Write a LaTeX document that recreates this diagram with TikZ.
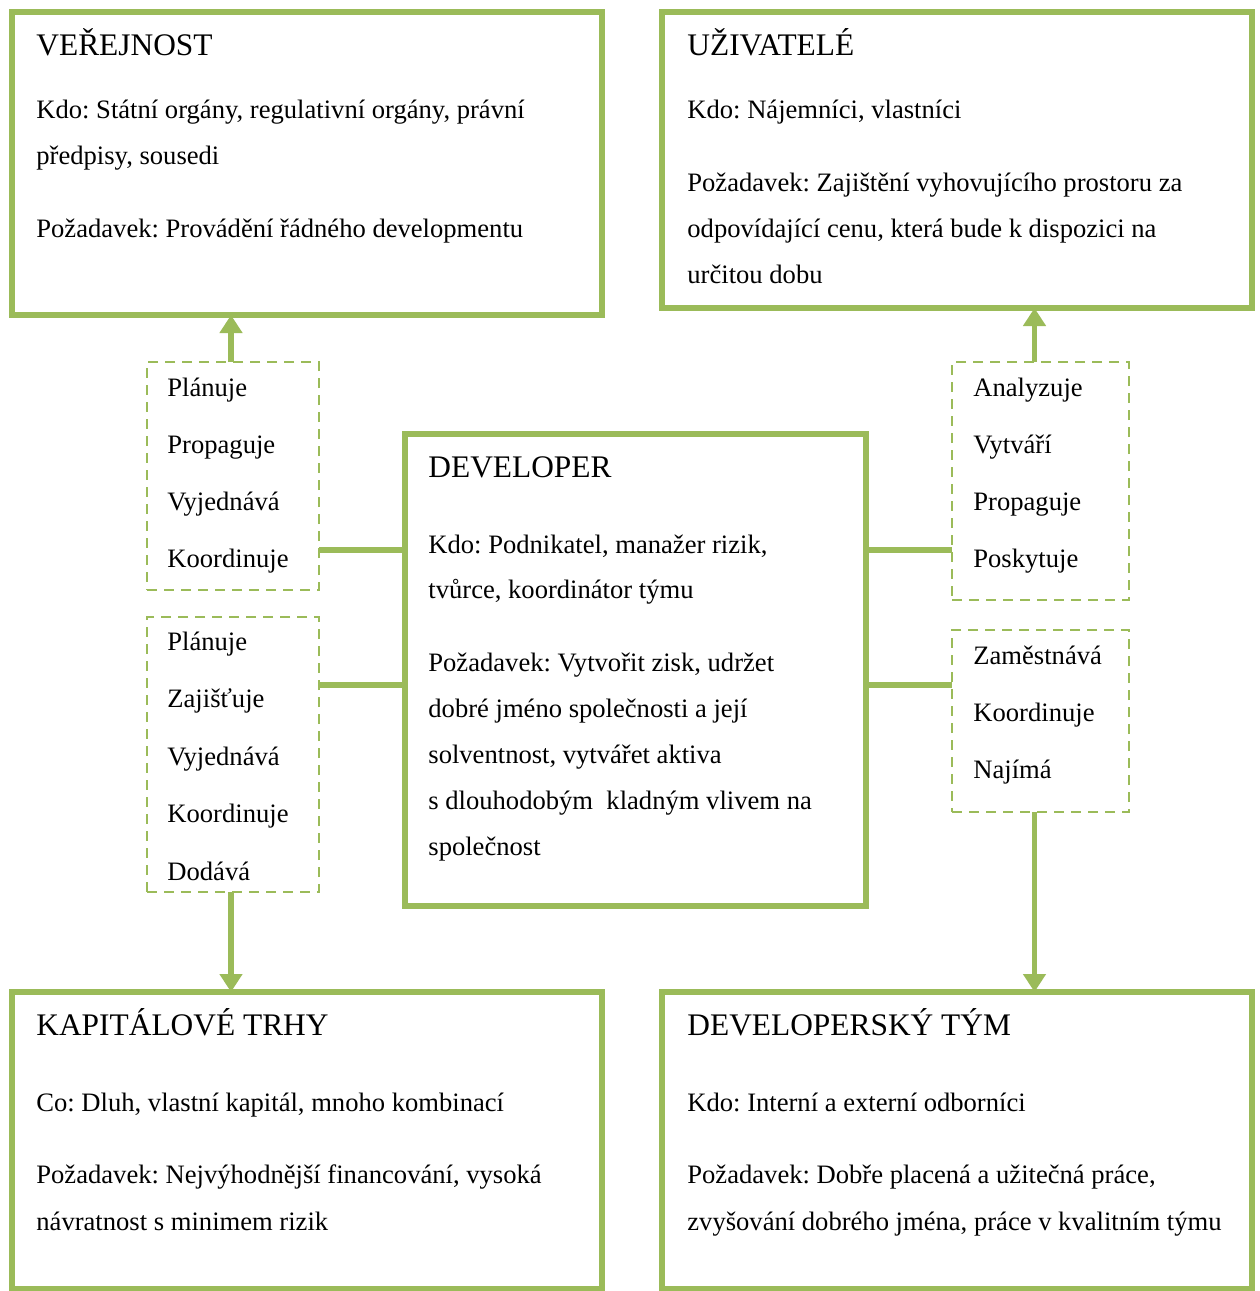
\documentclass[tikz,border=0pt]{standalone}
\usepackage{fontspec}
\setmainfont{Liberation Serif}
\usetikzlibrary{arrows.meta}
\definecolor{olivegreen}{HTML}{9BBB59}
\frenchspacing

\tikzset{
  bigbox/.style={draw=olivegreen, line width=2.6pt, anchor=north west, inner sep=0pt, outer sep=0pt},
  dashbox/.style={draw=olivegreen, line width=1.4pt, dash pattern=on 5pt off 3.5pt, anchor=north west, inner sep=0pt, outer sep=0pt},
  link/.style={olivegreen, line width=2.6pt},
  push/.style={link, -{Triangle[width=11pt,length=9pt]}},
  txt/.style={anchor=base west, inner sep=0pt, font=\fontsize{13.3}{16}\selectfont},
  head/.style={txt, font=\fontsize{15.7}{18}\selectfont},
}

\begin{document}
\begin{tikzpicture}[x=0.5pt,y=-0.5pt]
    \useasboundingbox (0,0) rectangle (1259,1291);
    % big boxes (sizes in pt = half the pixel size)
    \node[bigbox, minimum width=295pt, minimum height=151.5pt] (verejnost) at (12,12) {};
    \node[bigbox, minimum width=295pt, minimum height=148pt] (uzivatele) at (662,12) {};
    \node[bigbox, minimum width=230.5pt, minimum height=236pt] (developer) at (405,434) {};
    \node[bigbox, minimum width=295pt, minimum height=148.5pt] (kapital) at (12,992) {};
    \node[bigbox, minimum width=295pt, minimum height=148.5pt] (tym) at (662,992) {};
    % dashed boxes
    \node[dashbox, minimum width=86pt, minimum height=114pt] (plan) at (147,362) {};
    \node[dashbox, minimum width=86pt, minimum height=137.5pt] (zdroj) at (147,617) {};
    \node[dashbox, minimum width=88.5pt, minimum height=119pt] (trh) at (952,362) {};
    \node[dashbox, minimum width=88.5pt, minimum height=91pt] (lide) at (952,630) {};

    % texts
    \node[head] (v0) at (36,55) {VEŘEJNOST};
    \node[txt] (v1) at (36,118) {Kdo: Státní orgány, regulativní orgány, právní};
    \node[txt] (v2) at (36,164) {předpisy, sousedi};
    \node[txt] (v3) at (36,237) {Požadavek: Provádění řádného developmentu};

    \node[head] (u0) at (687,55) {UŽIVATELÉ};
    \node[txt] (u1) at (687,118) {Kdo: Nájemníci, vlastníci};
    \node[txt] (u2) at (687,191) {Požadavek: Zajištění vyhovujícího prostoru za};
    \node[txt] (u3) at (687,237) {odpovídající cenu, která bude k dispozici na};
    \node[txt] (u4) at (687,283) {určitou dobu};

    \node[head] (d0) at (428,477) {DEVELOPER};
    \node[txt] (d1) at (428,553) {Kdo: Podnikatel, manažer rizik,};
    \node[txt] (d2) at (428,598) {tvůrce, koordinátor týmu};
    \node[txt] (d3) at (428,671) {Požadavek: Vytvořit zisk, udržet};
    \node[txt] (d4) at (428,717) {dobré jméno společnosti a její};
    \node[txt] (d5) at (428,763) {solventnost, vytvářet aktiva};
    \node[txt] (d6) at (428,809) {s dlouhodobým\ \ kladným vlivem na};
    \node[txt] (d7) at (428,855) {společnost};

    \node[head] (k0) at (36,1035) {KAPITÁLOVÉ TRHY};
    \node[txt] (k1) at (36,1111) {Co: Dluh, vlastní kapitál, mnoho kombinací};
    \node[txt] (k2) at (36,1183) {Požadavek: Nejvýhodnější financování, vysoká};
    \node[txt] (k3) at (36,1230) {návratnost s minimem rizik};

    \node[head] (t0) at (687,1035) {DEVELOPERSKÝ TÝM};
    \node[txt] (t1) at (687,1111) {Kdo: Interní a externí odborníci};
    \node[txt] (t2) at (687,1183) {Požadavek: Dobře placená a užitečná práce,};
    \node[txt] (t3) at (687,1230) {zvyšování dobrého jména, práce v kvalitním týmu};

    \foreach \w [count=\i] in {Plánuje, Propaguje, Vyjednává, Koordinuje}
        \node[txt] (p\i) at (167,396+57.3*\i-57.3) {\w};
    \foreach \w [count=\i] in {Plánuje, Zajišťuje, Vyjednává, Koordinuje, Dodává}
        \node[txt] (z\i) at (167,650+57.5*\i-57.5) {\w};
    \foreach \w [count=\i] in {Analyzuje, Vytváří, Propaguje, Poskytuje}
        \node[txt] (a\i) at (973,396+57.3*\i-57.3) {\w};
    \foreach \w [count=\i] in {Zaměstnává, Koordinuje, Najímá}
        \node[txt] (n\i) at (973,664+57*\i-57) {\w};

    % connectors
    \draw[link] (plan.east |- 0,550) -- (developer.west |- 0,550);
    \draw[link] (zdroj.east |- 0,685) -- (developer.west |- 0,685);
    \draw[link] (developer.east |- 0,550) -- (trh.west |- 0,550);
    \draw[link] (developer.east |- 0,685) -- (lide.west |- 0,685);
    \draw[push] ([xshift=-1]plan.north) -- ([xshift=-1]plan.north |- verejnost.south);
    \draw[push] ([xshift=-3]trh.north) -- ([xshift=-3]trh.north |- uzivatele.south);
    \draw[push] ([xshift=-1]zdroj.south) -- ([xshift=-1]zdroj.south |- kapital.north);
    \draw[push] ([xshift=-3]lide.south) -- ([xshift=-3]lide.south |- tym.north);
\end{tikzpicture}
\end{document}
